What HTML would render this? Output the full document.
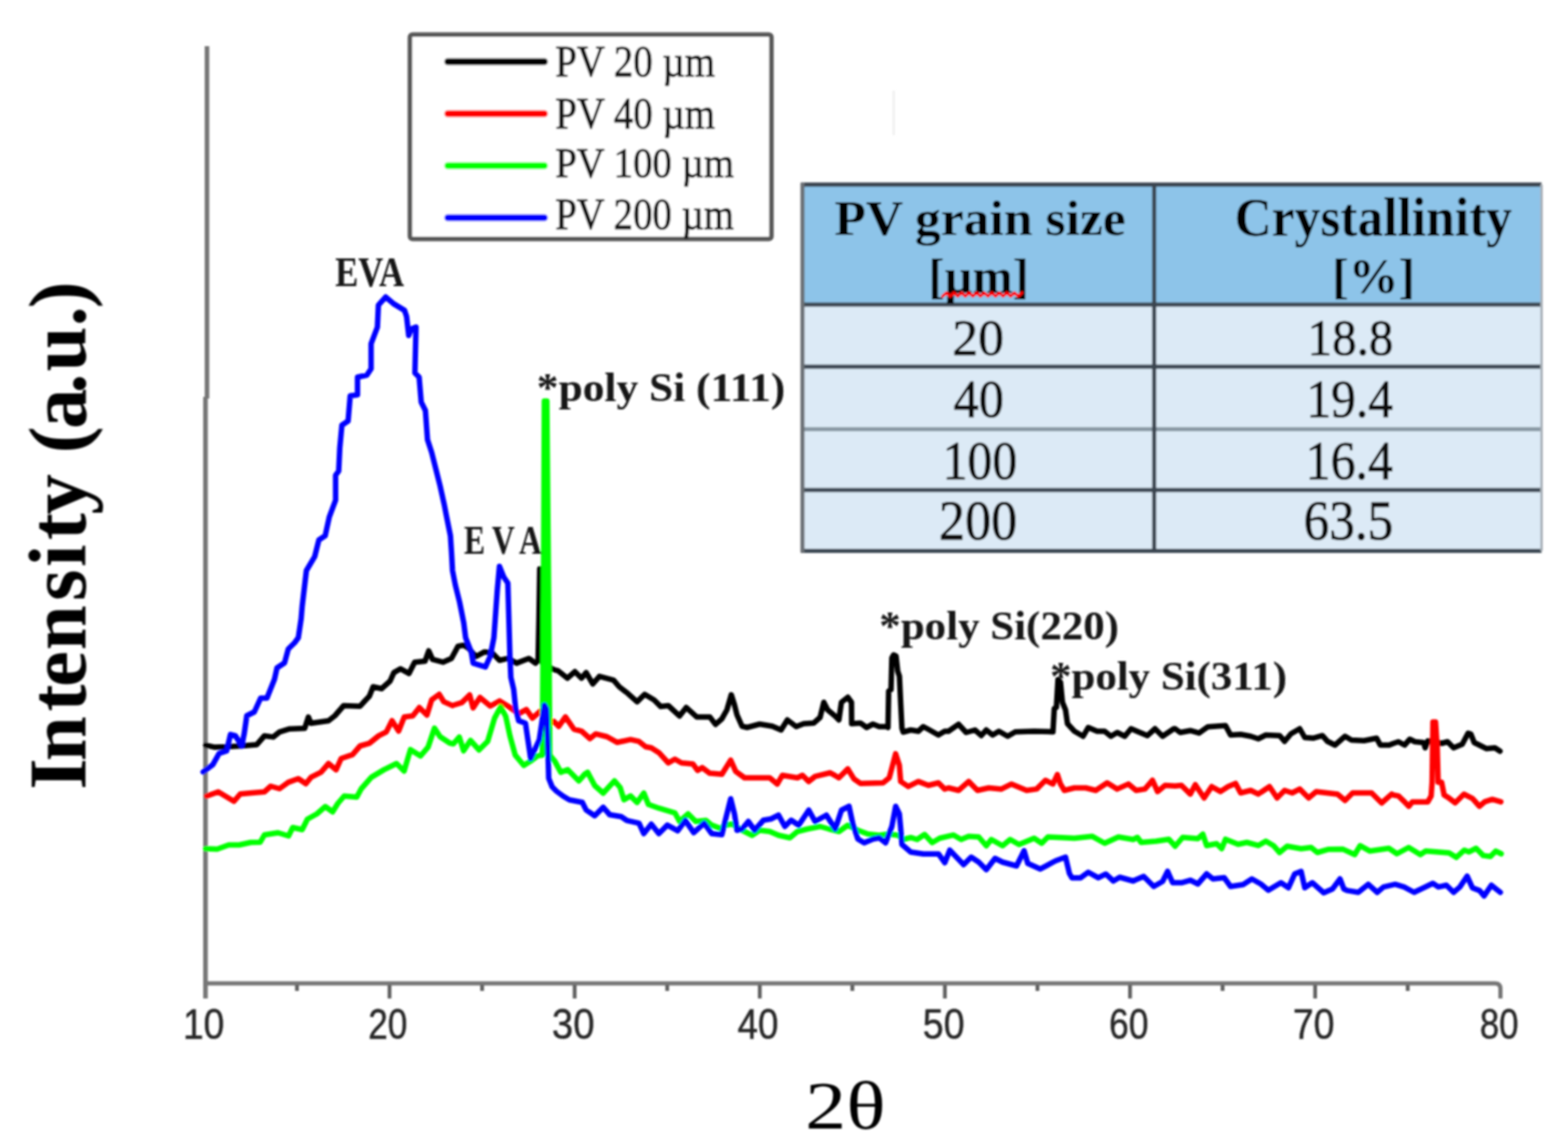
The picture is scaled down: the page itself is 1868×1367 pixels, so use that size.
<!DOCTYPE html>
<html><head><meta charset="utf-8"><title>XRD patterns of PV powders</title>
<style>html,body{margin:0;padding:0;background:#fff;overflow:hidden;}svg{display:block;}</style>
</head><body>
<svg width="1868" height="1367" viewBox="0 0 1868 1367">
<defs><filter id="b" x="0" y="0" width="1868" height="1367" filterUnits="userSpaceOnUse"><feGaussianBlur stdDeviation="0.8"/></filter></defs>
<rect width="100%" height="100%" fill="#fff"/>
<g filter="url(#b)">
<g fill="none" stroke-linecap="butt">
<path d="M246.6 55 V475 M244.8 473 V1190" stroke="#767676" stroke-width="5.5"/>
<path d="M245 1172 H1781 Q1787.5 1172 1787.5 1178.5 V1190" stroke="#767676" stroke-width="5"/>
<path d="M464.06 1174 V1190" stroke="#5e5e5e" stroke-width="4.5"/>
<path d="M684.60 1174 V1190" stroke="#5e5e5e" stroke-width="4.5"/>
<path d="M905.15 1174 V1190" stroke="#5e5e5e" stroke-width="4.5"/>
<path d="M1125.69 1174 V1190" stroke="#5e5e5e" stroke-width="4.5"/>
<path d="M1346.23 1174 V1190" stroke="#5e5e5e" stroke-width="4.5"/>
<path d="M1566.78 1174 V1190" stroke="#5e5e5e" stroke-width="4.5"/>
<path d="M353.79 1174 V1181" stroke="#5e5e5e" stroke-width="4.5"/>
<path d="M574.33 1174 V1181" stroke="#5e5e5e" stroke-width="4.5"/>
<path d="M794.87 1174 V1181" stroke="#5e5e5e" stroke-width="4.5"/>
<path d="M1015.42 1174 V1181" stroke="#5e5e5e" stroke-width="4.5"/>
<path d="M1235.96 1174 V1181" stroke="#5e5e5e" stroke-width="4.5"/>
<path d="M1456.50 1174 V1181" stroke="#5e5e5e" stroke-width="4.5"/>
<path d="M1677.05 1174 V1181" stroke="#5e5e5e" stroke-width="4.5"/>
</g>
<path d="M1064.7 108 V161" stroke="#efefef" stroke-width="2.5"/>
<rect x="488.4" y="41.3" width="430.6" height="243.4" fill="#fff" stroke="#585858" stroke-width="5.5" rx="3"/>
<path d="M533.5 73.5 H648.5" stroke="#000" stroke-width="8" stroke-linecap="round"/>
<path d="M533.5 135.6 H648.5" stroke="#ff0000" stroke-width="8" stroke-linecap="round"/>
<path d="M533.5 197.4 H648.5" stroke="#00ff00" stroke-width="8" stroke-linecap="round"/>
<path d="M533.5 259.5 H648.5" stroke="#0000ff" stroke-width="8" stroke-linecap="round"/>
<polyline points="245.00,888.20 255.00,890.40 270.00,890.00 288.00,889.00 306.00,887.40 315.00,877.00 325.50,878.40 333.00,872.40 345.00,868.70 363.00,868.00 367.40,854.50 370.40,862.00 391.40,859.00 399.00,853.00 409.40,841.00 429.00,841.70 435.00,835.00 440.00,829.70 444.50,818.50 454.60,820.70 464.70,811.70 469.20,801.60 477.10,797.10 487.20,802.70 494.00,789.20 506.30,788.10 510.80,775.70 515.30,785.90 527.70,789.20 537.80,784.70 545.70,770.10 552.40,769.00 558.00,772.40 567.00,782.50 577.20,776.90 586.20,778.00 595.10,787.00 605.30,784.70 615.40,790.40 630.00,784.70 637.90,790.40 640.10,788.10 641.00,787.50 642.00,740.00 643.00,678.00 644.50,740.00 646.00,790.00 660.10,798.20 664.60,799.30 675.90,808.30 684.90,800.50 692.70,808.30 698.30,801.60 706.20,815.10 714.10,806.10 731.00,810.60 737.70,818.50 747.80,826.30 759.00,836.40 768.00,827.50 779.30,834.20 787.20,842.10 796.20,841.00 809.60,853.30 817.50,843.20 829.90,854.40 845.60,854.40 852.40,863.40 860.00,856.70 866.00,846.00 871.20,828.00 875.00,840.00 878.00,852.00 884.00,865.50 890.00,867.00 905.00,863.00 920.00,865.50 930.50,870.00 938.00,858.00 948.50,866.00 957.50,862.50 969.40,861.70 977.00,855.00 981.40,837.00 986.00,846.00 995.00,853.50 999.40,858.00 1002.40,837.00 1010.00,831.00 1014.40,837.00 1014.60,862.50 1025.00,861.70 1032.40,867.00 1040.00,863.00 1047.40,866.00 1056.40,866.00 1057.90,867.00 1058.70,823.50 1061.50,822.00 1062.50,784.00 1064.50,780.50 1067.50,782.00 1069.50,800.00 1071.50,806.00 1073.00,838.00 1074.50,868.00 1076.00,872.50 1085.00,870.00 1094.00,871.50 1100.00,866.00 1107.40,870.00 1117.90,876.00 1125.40,871.50 1130.00,871.50 1142.00,863.20 1151.00,873.00 1161.50,870.00 1169.00,876.70 1175.00,870.00 1182.50,876.00 1190.00,871.50 1200.50,877.50 1209.50,872.20 1232.00,871.50 1254.40,872.20 1256.00,844.50 1258.50,843.00 1260.40,810.00 1263.40,813.00 1265.70,837.00 1269.40,846.00 1271.70,862.50 1280.00,871.50 1290.40,877.50 1296.40,867.00 1307.00,871.50 1316.00,871.50 1323.40,877.50 1331.00,873.00 1340.00,877.50 1347.40,868.50 1358.00,873.00 1367.00,876.70 1376.00,868.50 1385.00,877.50 1398.40,868.50 1400.00,868.50 1406.00,873.00 1418.00,870.70 1428.50,873.70 1439.00,866.20 1460.00,864.70 1466.00,876.00 1478.00,875.20 1490.00,877.50 1499.00,880.50 1508.00,876.00 1524.40,876.70 1530.40,883.50 1538.00,874.50 1548.40,868.50 1554.40,879.00 1565.00,879.70 1575.40,876.70 1581.40,883.50 1590.40,888.00 1602.40,877.50 1610.00,882.00 1625.00,882.70 1640.00,879.70 1644.40,888.00 1655.00,888.00 1660.00,886.00 1666.00,884.00 1673.30,888.00 1679.50,881.00 1685.60,884.00 1695.80,885.00 1697.90,891.20 1701.00,883.00 1709.00,884.00 1717.40,886.00 1724.50,884.00 1731.70,891.20 1742.00,887.00 1749.00,873.80 1752.20,874.80 1756.30,885.00 1762.40,888.00 1770.60,892.20 1780.90,891.20 1787.00,895.30" fill="none" stroke="#000" stroke-width="6.5" stroke-linejoin="round" stroke-linecap="round"/>
<polyline points="246.25,948.75 260.00,943.75 278.75,955.00 286.25,946.25 300.00,945.00 315.00,943.75 322.50,937.00 333.00,940.00 343.40,932.40 355.40,928.00 364.40,934.00 370.40,926.40 382.40,920.40 391.40,910.00 400.40,917.40 406.40,904.00 420.00,899.40 429.00,889.00 440.00,885.90 451.20,876.90 460.20,872.40 467.00,858.90 474.90,871.30 481.60,854.40 491.70,853.30 499.60,843.20 508.60,852.20 514.20,834.20 523.20,827.50 528.80,836.40 538.90,840.90 540.00,840.50 550.20,837.40 559.50,828.20 563.60,843.60 571.80,831.30 584.10,841.50 595.30,835.40 606.60,842.50 617.90,850.70 627.10,845.60 634.30,855.90 643.50,847.70 652.00,855.00 658.80,861.00 660.10,860.00 665.70,865.70 673.60,854.40 683.70,869.00 692.70,871.30 702.80,880.30 709.60,874.70 723.10,878.00 735.40,884.80 751.20,881.40 761.30,883.70 769.20,890.00 775.90,891.20 784.90,896.90 796.20,909.20 804.00,904.70 811.90,909.20 825.40,910.40 831.00,918.20 836.60,914.90 845.60,921.60 860.00,922.70 870.50,906.00 876.50,919.40 887.00,927.00 917.00,927.00 926.00,934.40 932.00,924.00 950.00,927.00 956.00,924.00 963.40,931.40 971.00,925.40 989.00,921.00 999.40,927.00 1010.00,916.40 1017.40,928.40 1025.00,933.70 1052.00,933.00 1059.40,927.00 1067.00,898.40 1071.40,912.00 1073.00,931.40 1082.00,937.40 1094.00,931.40 1106.00,936.00 1118.00,933.00 1125.40,940.40 1130.00,939.00 1142.00,942.00 1154.00,931.40 1164.50,942.00 1178.00,939.00 1193.00,940.40 1205.00,934.40 1223.00,942.00 1235.00,940.40 1245.40,930.00 1254.40,934.40 1259.70,923.20 1263.40,934.40 1268.00,942.00 1280.00,939.00 1293.40,939.00 1305.40,942.00 1319.00,933.00 1331.00,940.40 1344.40,934.40 1353.40,942.00 1364.00,940.40 1373.00,930.00 1379.00,943.40 1388.00,936.00 1400.00,936.70 1407.50,936.00 1418.00,946.40 1424.00,935.20 1434.50,951.00 1443.50,937.50 1454.00,943.40 1463.00,937.50 1472.00,933.70 1478.00,945.00 1490.00,942.00 1499.00,946.40 1512.40,937.50 1521.40,951.00 1530.40,942.00 1539.40,945.00 1548.40,940.40 1559.00,951.00 1568.00,943.40 1593.40,946.40 1602.40,954.00 1611.40,945.00 1634.00,945.00 1646.00,957.00 1658.00,946.40 1660.00,947.50 1666.00,948.60 1673.30,955.70 1678.40,960.90 1682.50,955.70 1701.00,955.70 1705.00,948.60 1706.10,932.20 1707.10,860.50 1710.20,860.50 1712.20,891.20 1713.30,932.20 1717.40,932.20 1720.40,947.50 1725.50,950.60 1733.70,956.80 1744.00,946.50 1754.20,951.60 1762.40,960.90 1768.60,955.70 1777.80,952.70 1788.00,955.70" fill="none" stroke="#ff0000" stroke-width="6.5" stroke-linejoin="round" stroke-linecap="round"/>
<polyline points="245.00,1011.50 258.75,1012.00 272.50,1007.00 285.00,1007.00 298.75,1004.00 310.00,1003.75 315.00,995.00 331.25,992.50 343.75,996.25 348.75,986.25 360.00,988.75 366.25,976.25 377.50,970.00 387.50,961.25 396.25,967.50 402.50,957.50 410.00,948.75 425.00,950.00 430.40,940.00 442.40,926.40 457.40,917.40 472.40,910.00 481.40,919.00 489.00,893.40 501.00,901.00 510.00,890.40 517.60,867.90 524.30,878.00 535.60,885.50 540.00,886.60 547.20,878.40 552.30,894.80 560.50,882.50 570.70,893.80 581.00,883.50 589.20,855.90 596.40,842.50 602.50,853.80 607.60,877.40 613.80,899.90 624.00,912.20 632.20,907.10 640.40,900.90 645.50,900.00 646.00,900.00 647.50,700.00 648.50,478.00 651.50,478.00 653.50,700.00 655.00,900.00 660.90,907.10 668.10,920.40 676.30,917.30 689.60,930.70 696.80,922.50 700.00,920.40 708.50,936.20 718.60,945.20 732.00,930.60 738.80,938.50 743.30,953.10 751.20,948.60 759.00,956.40 767.00,945.20 772.50,958.70 785.00,963.20 804.00,968.80 809.60,979.00 819.80,970.00 828.80,979.00 841.10,977.80 847.90,983.40 860.00,988.00 862.00,984.00 872.00,982.00 884.00,989.50 896.00,995.50 905.00,989.50 917.00,991.00 927.50,995.50 941.00,998.50 950.00,991.00 962.00,988.00 977.00,985.00 987.50,988.00 999.50,991.00 1010.00,983.50 1022.00,989.50 1034.00,994.00 1047.50,995.50 1058.00,994.00 1070.00,995.50 1076.00,1000.50 1085.00,998.20 1092.50,1000.50 1101.50,994.50 1110.50,1004.20 1119.50,999.00 1136.00,995.20 1145.00,1000.50 1154.00,996.70 1166.00,997.50 1175.00,1008.00 1181.00,1000.50 1194.40,1008.00 1203.40,1000.50 1214.00,1006.50 1232.00,999.00 1241.00,1005.00 1248.40,997.50 1265.00,998.20 1280.00,999.00 1301.00,996.70 1316.00,1005.00 1332.40,997.50 1350.00,1000.50 1355.00,998.00 1359.50,1004.00 1377.50,1002.50 1392.50,1000.20 1400.00,1008.50 1409.00,998.00 1427.00,999.50 1433.00,994.20 1437.50,1007.70 1449.40,1005.50 1455.40,1011.50 1460.00,1000.20 1475.00,1006.20 1485.40,1004.00 1499.00,1007.70 1508.00,1002.50 1517.00,1007.70 1524.40,1016.00 1533.40,1008.50 1550.00,1011.50 1562.00,1010.00 1569.40,1016.00 1583.00,1012.20 1600.00,1012.10 1613.90,1018.50 1620.30,1007.80 1632.10,1014.30 1654.60,1011.00 1664.20,1017.50 1678.20,1010.00 1692.10,1018.50 1698.50,1014.30 1726.30,1016.40 1734.90,1021.80 1744.50,1013.20 1749.90,1015.30 1758.50,1011.00 1767.00,1019.60 1775.60,1020.70 1782.00,1014.30 1788.40,1017.50" fill="none" stroke="#00ff00" stroke-width="6.5" stroke-linejoin="round" stroke-linecap="round"/>
<polygon points="646,900 647.5,700 648.5,478 651.5,478 653.5,700 655,900" fill="#00ff00"/>
<polyline points="242.00,920.00 253.50,911.40 261.00,898.00 270.00,895.00 274.50,875.40 280.50,877.00 288.00,889.00 291.00,874.00 294.00,853.00 303.00,848.50 310.50,832.00 318.00,832.00 327.00,809.50 330.00,796.00 339.00,790.00 343.40,773.50 351.00,766.00 355.40,760.00 358.75,737.50 360.00,722.50 365.00,680.00 374.90,663.40 379.90,643.50 387.40,638.50 392.30,616.10 399.80,596.20 399.80,566.40 403.50,561.40 404.80,534.00 407.30,506.70 414.70,501.70 417.20,471.80 425.90,470.60 425.90,449.50 437.10,447.00 442.10,439.50 442.10,409.70 449.60,389.80 450.80,363.60 459.50,354.00 469.50,362.40 481.90,369.90 484.40,377.30 486.90,399.70 490.00,392.00 495.60,389.80 494.30,444.50 499.30,449.50 501.80,479.30 506.80,489.30 509.30,524.10 514.20,539.00 519.20,558.90 524.20,578.80 529.20,601.20 531.60,613.60 536.60,638.50 537.90,658.40 539.10,680.00 542.50,697.50 547.50,717.50 552.50,742.50 554.70,760.00 561.40,776.90 563.70,790.40 578.30,794.90 583.90,782.50 588.40,760.00 592.50,702.50 595.00,675.00 600.00,687.50 605.00,695.00 607.50,782.50 608.60,807.20 612.00,821.80 614.30,844.30 617.90,858.90 626.00,862.00 632.20,904.00 642.50,881.50 648.60,840.50 651.00,845.00 652.70,891.70 653.70,927.60 657.80,937.80 663.00,943.00 671.10,949.00 678.30,953.20 693.70,956.30 698.30,965.40 708.50,972.20 718.60,962.10 726.40,971.00 740.00,973.30 746.70,977.80 761.30,981.20 766.90,993.50 775.90,982.30 784.90,993.50 795.00,983.40 807.40,990.20 816.40,977.80 826.50,992.40 838.90,981.20 847.90,993.50 860.00,994.70 864.50,976.00 870.50,952.00 875.00,970.00 878.00,989.50 884.00,988.00 891.50,979.00 899.00,989.50 909.50,977.50 918.50,976.00 927.50,971.50 935.00,985.00 942.50,977.50 951.50,983.50 963.50,965.50 971.00,979.00 984.50,971.50 995.00,988.00 1002.50,965.50 1011.50,961.00 1016.00,982.00 1022.00,1000.00 1029.50,1004.50 1040.00,1000.00 1047.50,998.50 1055.00,1004.50 1062.50,985.00 1067.00,961.00 1071.40,970.00 1073.00,987.00 1074.50,1006.50 1085.00,1015.50 1100.00,1017.70 1118.00,1017.70 1125.50,1028.20 1131.50,1013.20 1148.00,1030.50 1157.00,1021.50 1166.00,1027.50 1175.00,1036.50 1185.40,1023.00 1194.40,1027.50 1211.00,1032.00 1220.00,1014.00 1224.40,1029.00 1239.40,1035.70 1257.40,1026.00 1269.40,1021.50 1274.00,1041.00 1277.00,1046.20 1287.40,1046.20 1296.40,1039.50 1308.40,1046.20 1317.40,1041.70 1326.40,1050.00 1333.90,1045.50 1350.00,1050.00 1352.00,1049.00 1362.50,1044.50 1374.50,1056.50 1385.00,1050.50 1391.00,1038.50 1397.00,1052.00 1407.50,1052.00 1418.00,1049.00 1427.00,1053.50 1437.50,1041.50 1445.00,1047.50 1458.40,1046.00 1466.00,1056.50 1481.00,1054.20 1491.40,1047.50 1502.00,1053.50 1511.00,1061.00 1526.00,1052.00 1535.00,1058.00 1542.40,1041.50 1550.00,1038.50 1554.40,1058.00 1563.40,1052.00 1577.00,1064.00 1587.40,1059.50 1596.40,1047.50 1601.00,1059.50 1605.40,1061.40 1618.20,1063.50 1630.00,1053.90 1640.70,1063.50 1648.20,1057.10 1662.10,1053.90 1672.80,1057.10 1684.60,1063.50 1707.00,1052.80 1713.50,1057.10 1723.10,1055.00 1731.70,1063.50 1739.20,1057.10 1747.80,1044.20 1754.20,1058.20 1762.70,1061.40 1768.10,1067.80 1776.70,1055.00 1782.00,1059.20 1787.40,1063.50" fill="none" stroke="#0000ff" stroke-width="6.5" stroke-linejoin="round" stroke-linecap="round"/>
<rect x="956" y="220" width="880.5" height="143" fill="#8dc4e9"/>
<rect x="956" y="363" width="880.5" height="293.5" fill="#dceaf6"/>
<g stroke="#3a4550" stroke-width="4.8">
<path d="M954 220 H1836.5"/>
<path d="M954 363 H1836.5" stroke="#3e4a54"/>
<path d="M954 437 H1836.5" stroke="#3e4a54"/>
<path d="M954 511.5 H1836.5" stroke="#8a9aa6"/>
<path d="M954 584 H1836.5" stroke="#3e4a54"/>
<path d="M954 656.5 H1836.5" stroke="#3e4a54"/>
<path d="M1375 220 V656.5"/>
<path d="M956 218 V658.5" stroke="#6a6f74"/>
<path d="M1836.5 220 V656.5" stroke="#a8b0b8" stroke-width="3"/>
</g>
<text transform="matrix(0.9250 0 0 1.0424 217.90 1238.30)" font-family="'Liberation Sans', sans-serif" font-weight="normal" font-size="48" fill="#262626" stroke="#262626" stroke-width="0.51" stroke-linejoin="round">10</text>
<text transform="matrix(0.8720 0 0 1.0424 438.76 1238.30)" font-family="'Liberation Sans', sans-serif" font-weight="normal" font-size="48" fill="#262626" stroke="#262626" stroke-width="0.52" stroke-linejoin="round">20</text>
<text transform="matrix(0.9480 0 0 1.0424 657.60 1238.30)" font-family="'Liberation Sans', sans-serif" font-weight="normal" font-size="48" fill="#262626" stroke="#262626" stroke-width="0.50" stroke-linejoin="round">30</text>
<text transform="matrix(0.9118 0 0 1.0424 878.69 1238.30)" font-family="'Liberation Sans', sans-serif" font-weight="normal" font-size="48" fill="#262626" stroke="#262626" stroke-width="0.51" stroke-linejoin="round">40</text>
<text transform="matrix(0.9320 0 0 1.0424 1099.34 1238.30)" font-family="'Liberation Sans', sans-serif" font-weight="normal" font-size="48" fill="#262626" stroke="#262626" stroke-width="0.51" stroke-linejoin="round">50</text>
<text transform="matrix(0.8800 0 0 1.0424 1321.24 1238.30)" font-family="'Liberation Sans', sans-serif" font-weight="normal" font-size="48" fill="#262626" stroke="#262626" stroke-width="0.52" stroke-linejoin="round">60</text>
<text transform="matrix(0.9300 0 0 1.0424 1540.24 1238.30)" font-family="'Liberation Sans', sans-serif" font-weight="normal" font-size="48" fill="#262626" stroke="#262626" stroke-width="0.51" stroke-linejoin="round">70</text>
<text transform="matrix(0.8620 0 0 1.0424 1762.98 1238.30)" font-family="'Liberation Sans', sans-serif" font-weight="normal" font-size="48" fill="#262626" stroke="#262626" stroke-width="0.53" stroke-linejoin="round">80</text>
<text transform="matrix(1.1364 0 0 0.9452 959.35 1344.85)" font-family="'Liberation Serif', serif" font-weight="normal" font-size="86" fill="#000">2θ</text>
<text transform="matrix(0.8900 0 0 1.0171 661.42 90.70)" font-family="'Liberation Serif', serif" font-weight="normal" font-size="52" fill="#141414" stroke="#141414" stroke-width="0.94" stroke-linejoin="round">PV 20 µm</text>
<text transform="matrix(0.8905 0 0 1.0000 661.42 153.20)" font-family="'Liberation Serif', serif" font-weight="normal" font-size="52" fill="#141414" stroke="#141414" stroke-width="0.95" stroke-linejoin="round">PV 40 µm</text>
<text transform="matrix(0.8878 0 0 0.9829 661.42 211.40)" font-family="'Liberation Serif', serif" font-weight="normal" font-size="52" fill="#141414" stroke="#141414" stroke-width="0.96" stroke-linejoin="round">PV 100 µm</text>
<text transform="matrix(0.8878 0 0 1.0000 661.42 273.40)" font-family="'Liberation Serif', serif" font-weight="normal" font-size="52" fill="#141414" stroke="#141414" stroke-width="0.95" stroke-linejoin="round">PV 200 µm</text>
<text transform="matrix(0.8628 0 0 1.0625 399.24 340.90)" font-family="'Liberation Serif', serif" font-weight="bold" font-size="48" fill="#141414">EVA</text>
<text transform="matrix(1.1004 0 0 1.0548 639.60 478.00)" font-family="'Liberation Serif', serif" font-weight="bold" font-size="47" fill="#141414">*poly Si (111)</text>
<text transform="matrix(1.0880 0 0 1.0484 1047.62 762.30)" font-family="'Liberation Serif', serif" font-weight="bold" font-size="47" fill="#141414">*poly Si(220)</text>
<text transform="matrix(1.0871 0 0 1.0226 1250.93 821.50)" font-family="'Liberation Serif', serif" font-weight="bold" font-size="47" fill="#141414">*poly Si(311)</text>
<text transform="matrix(1.0250 0 0 0.9974 993.88 279.90)" font-family="'Liberation Serif', serif" font-weight="bold" font-size="60" fill="#000">PV grain size</text>
<text transform="matrix(0.9612 0 0 0.9732 1106.06 349.00)" font-family="'Liberation Serif', serif" font-weight="bold" font-size="60" fill="#000">[µm]</text>
<text transform="matrix(1.0222 0 0 1.0769 1470.83 280.90)" font-family="'Liberation Serif', serif" font-weight="bold" font-size="60" fill="#000">Crystallinity</text>
<text transform="matrix(0.9902 0 0 1.0000 1586.94 349.10)" font-family="'Liberation Serif', serif" font-weight="bold" font-size="60" fill="#000">[%]</text>
<text transform="matrix(1.0255 0 0 1.0282 1134.52 423.10)" font-family="'Liberation Serif', serif" font-weight="normal" font-size="60" fill="#111" stroke="#111" stroke-width="0.97" stroke-linejoin="round">20</text>
<text transform="matrix(0.9982 0 0 1.0667 1136.10 497.30)" font-family="'Liberation Serif', serif" font-weight="normal" font-size="60" fill="#111" stroke="#111" stroke-width="0.97" stroke-linejoin="round">40</text>
<text transform="matrix(0.9867 0 0 1.0974 1122.97 570.60)" font-family="'Liberation Serif', serif" font-weight="normal" font-size="60" fill="#111" stroke="#111" stroke-width="0.96" stroke-linejoin="round">100</text>
<text transform="matrix(1.0365 0 0 1.1128 1118.59 643.20)" font-family="'Liberation Serif', serif" font-weight="normal" font-size="60" fill="#111" stroke="#111" stroke-width="0.93" stroke-linejoin="round">200</text>
<text transform="matrix(0.9735 0 0 1.0282 1557.83 423.10)" font-family="'Liberation Serif', serif" font-weight="normal" font-size="60" fill="#111" stroke="#111" stroke-width="1.00" stroke-linejoin="round">18.8</text>
<text transform="matrix(0.9838 0 0 1.0667 1556.28 497.30)" font-family="'Liberation Serif', serif" font-weight="normal" font-size="60" fill="#111" stroke="#111" stroke-width="0.98" stroke-linejoin="round">19.4</text>
<text transform="matrix(0.9879 0 0 1.0974 1555.56 570.60)" font-family="'Liberation Serif', serif" font-weight="normal" font-size="60" fill="#111" stroke="#111" stroke-width="0.96" stroke-linejoin="round">16.4</text>
<text transform="matrix(1.0180 0 0 1.1128 1552.95 643.20)" font-family="'Liberation Serif', serif" font-weight="normal" font-size="60" fill="#111" stroke="#111" stroke-width="0.94" stroke-linejoin="round">63.5</text>
<text transform="matrix(0 -1.0044 1.0143 0 102.00 950.00)" x="8.7 42.5 101.7 130.7 174.3 232.7 273.1 305.0 335.2 365.2 407.9 436.8 478.6 505.0 558.6 580.1" y="0" font-family="'Liberation Serif', serif" font-weight="bold" font-size="96" fill="#000">Intensity (a.u.)</text>
<text transform="matrix(0.82 0 0 1.035 0 660)" x="674.0 700.0 714.7 754.1" y="0" font-family="'Liberation Serif', serif" font-weight="bold" font-size="46" fill="#141414">E VA</text>
<path d="M1123 353 l4.5 -4 l4.5 4 l4.5 -4 l4.5 4 l4.5 -4 l4.5 4 l4.5 -4 l4.5 4 l4.5 -4 l4.5 4 l4.5 -4 l4.5 4 l4.5 -4 l4.5 4 l4.5 -4 l4.5 4 l4.5 -4 l4.5 4 l4.5 -4 l4.5 4 l4.5 -4" stroke="#ff0000" stroke-width="3.6" fill="none" stroke-linejoin="round" stroke-linecap="round"/>
</g>
</svg>
</body></html>
